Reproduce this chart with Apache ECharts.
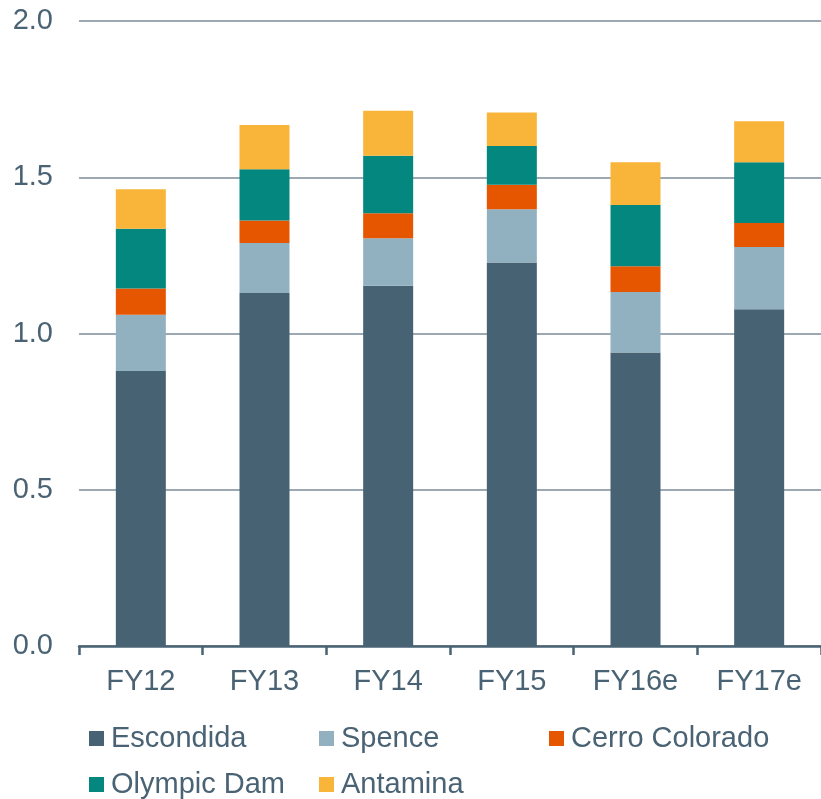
<!DOCTYPE html>
<html>
<head>
<meta charset="utf-8">
<script src="https://cdn.jsdelivr.net/npm/echarts@6/dist/echarts.min.js"></script>
<style>
html,body{margin:0;padding:0;background:#fff;}
#chart{width:821px;height:799px;}
</style>
</head>
<body>
<div id="chart"></div>
<script>
const categories = ['FY12', 'FY13', 'FY14', 'FY15', 'FY16e', 'FY17e'];
const escondida = [0.880, 1.130, 1.153, 1.227, 0.939, 1.078];
const spence = [0.180, 0.160, 0.152, 0.171, 0.194, 0.199];
const cerroColorado = [0.084, 0.072, 0.080, 0.078, 0.082, 0.077];
const olympicDam = [0.191, 0.164, 0.184, 0.124, 0.196, 0.194];
const antamina = [0.127, 0.141, 0.144, 0.107, 0.137, 0.131];
const yTicks = [0, 0.5, 1.0, 1.5, 2.0];

const seriesNames = ['Escondida', 'Spence', 'Cerro Colorado', 'Olympic Dam', 'Antamina'];
const seriesData = [escondida, spence, cerroColorado, olympicDam, antamina];
const colors = ['#476373', '#91b1c0', '#e65500', '#04877e', '#f9b43a'];

const textColor = '#4a6374';
const font = "'Liberation Sans', Arial, sans-serif";

const legendPos = [
  { left: 89, top: 724 },
  { left: 319, top: 724 },
  { left: 549, top: 724 },
  { left: 89, top: 770 },
  { left: 319, top: 770 }
];

const chart = echarts.init(document.getElementById('chart'), null, { renderer: 'canvas' });
chart.setOption({
  animation: false,
  color: colors,
  grid: { left: 79, right: -4, top: 21, bottom: 153, containLabel: false },
  legend: seriesNames.map((n, i) => ({
    data: [n],
    left: legendPos[i].left,
    top: legendPos[i].top,
    padding: 0,
    icon: 'rect',
    itemWidth: 15,
    itemHeight: 15,
    selectedMode: false,
    textStyle: { color: textColor, fontSize: 29, fontFamily: font, padding: [0, 0, 0, 2] }
  })),
  xAxis: {
    type: 'category',
    data: categories,
    axisLine: { lineStyle: { color: '#4a6374', width: 2.5 } },
    axisTick: { show: true, length: 9, inside: false, lineStyle: { color: '#4a6374', width: 2.5 } },
    axisLabel: { color: textColor, fontSize: 29, fontFamily: font, margin: 21 }
  },
  yAxis: {
    type: 'value',
    min: yTicks[0],
    max: yTicks[yTicks.length - 1],
    interval: 0.5,
    axisLine: { show: false },
    axisTick: { show: false },
    splitLine: { lineStyle: { color: '#7b8d99', width: 1.5 } },
    axisLabel: {
      color: textColor, fontSize: 29, fontFamily: font, margin: 26,
      formatter: v => v.toFixed(1)
    }
  },
  series: seriesNames.map((n, i) => ({
    name: n,
    type: 'bar',
    stack: 'total',
    barWidth: 50,
    data: seriesData[i],
    itemStyle: { color: colors[i] }
  }))
});
</script>
</body>
</html>
